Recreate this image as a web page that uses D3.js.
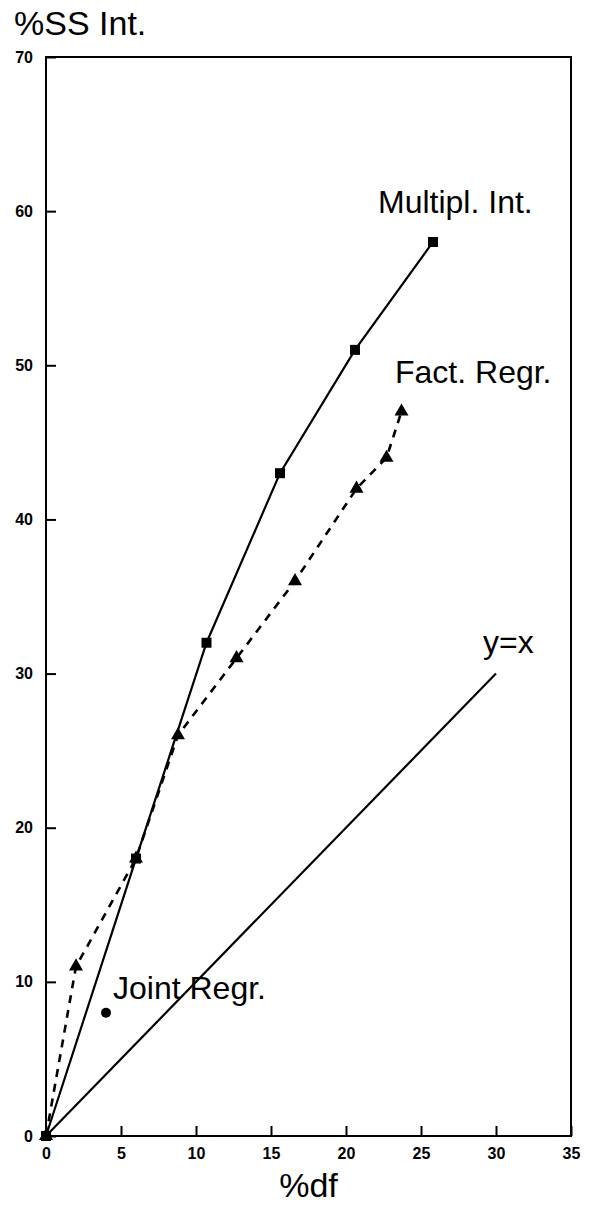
<!DOCTYPE html>
<html>
<head>
<meta charset="utf-8">
<script src="https://cdn.jsdelivr.net/npm/d3@7"></script>
<style>
  body { margin: 0; background: #fff; }
  svg text { font-family: "Liberation Sans", Arial, sans-serif; fill: #000; }
</style>
</head>
<body>
<div id="chart"></div>
<script>
// data (x = %df, y = %SS Int.)
const multiplX = [0, 6, 10.7, 15.6, 20.6, 25.8];
const multiplY = [0, 18, 32, 43, 51, 58];

const factX = [0, 2, 6, 8.8, 12.7, 16.6, 20.7, 22.7, 23.7];
const factY = [0, 11, 18, 26, 31, 36, 42, 44, 47];

const jointX = [4];
const jointY = [8];

const identityX = [0, 30];
const identityY = [0, 30];

const xTicks = [0, 5, 10, 15, 20, 25, 30, 35];
const yTicks = [0, 10, 20, 30, 40, 50, 60, 70];

const seriesLabels = [
  { text: "Multipl. Int.", x: 378, y: 213 },
  { text: "Fact. Regr.", x: 395, y: 383 },
  { text: "y=x", x: 483, y: 653 },
  { text: "Joint Regr.", x: 113, y: 999 }
];

const W = 593, H = 1206;

// scales
let x = d3.scaleLinear().domain([0, 35]).range([46, 571]);
let y = d3.scaleLinear().domain([0, 70]).range([1136, 57]);

let svg = d3.select("#chart").append("svg")
  .attr("width", W)
  .attr("height", H);

// frame on top and right
svg.append("rect")
  .attr("x", x(0))
  .attr("y", y(70))
  .attr("width", x(35) - x(0))
  .attr("height", y(0) - y(70))
  .attr("fill", "none")
  .attr("stroke", "#000")
  .attr("stroke-width", 2);

// axes, ticks pointing inward
let xAxis = svg.append("g")
  .attr("transform", `translate(0,${y(0)})`)
  .call(d3.axisBottom(x).tickValues(xTicks).tickSize(-10).tickPadding(12).tickFormat(d3.format("d")));

let yAxis = svg.append("g")
  .attr("transform", `translate(${x(0)},0)`)
  .call(d3.axisLeft(y).tickValues(yTicks).tickSize(-10).tickPadding(13).tickFormat(d3.format("d")));

[xAxis, yAxis].forEach(g => {
  g.select(".domain").remove();
  g.selectAll(".tick line").attr("stroke", "#000").attr("stroke-width", 2);
  g.selectAll(".tick text")
    .attr("font-size", 16)
    .attr("font-weight", "bold");
});

// lines
let line = d3.line().x(d => x(d[0])).y(d => y(d[1]));

svg.append("path")
  .datum(d3.zip(identityX, identityY))
  .attr("d", line)
  .attr("fill", "none")
  .attr("stroke", "#000")
  .attr("stroke-width", 2.2);

svg.append("path")
  .datum(d3.zip(factX, factY))
  .attr("d", line)
  .attr("fill", "none")
  .attr("stroke", "#000")
  .attr("stroke-width", 2.6)
  .attr("stroke-dasharray", "8,7");

svg.append("path")
  .datum(d3.zip(multiplX, multiplY))
  .attr("d", line)
  .attr("fill", "none")
  .attr("stroke", "#000")
  .attr("stroke-width", 2.2);

// markers
svg.selectAll(".tri")
  .data(d3.zip(factX, factY))
  .enter()
  .append("path")
  .attr("class", "tri")
  .attr("d", d3.symbol().type(d3.symbolTriangle).size(85))
  .attr("transform", d => `translate(${x(d[0])},${y(d[1])})`)
  .attr("fill", "#000");

svg.selectAll(".sq")
  .data(d3.zip(multiplX, multiplY))
  .enter()
  .append("rect")
  .attr("class", "sq")
  .attr("x", d => x(d[0]) - 5)
  .attr("y", d => y(d[1]) - 5)
  .attr("width", 10)
  .attr("height", 10)
  .attr("fill", "#000");

svg.selectAll(".dot")
  .data(d3.zip(jointX, jointY))
  .enter()
  .append("circle")
  .attr("class", "dot")
  .attr("cx", d => x(d[0]))
  .attr("cy", d => y(d[1]))
  .attr("r", 5)
  .attr("fill", "#000");

// series labels
svg.selectAll(".lab")
  .data(seriesLabels)
  .enter()
  .append("text")
  .attr("class", "lab")
  .attr("x", d => d.x)
  .attr("y", d => d.y)
  .attr("font-size", 32)
  .text(d => d.text);

// axis titles
svg.append("text")
  .attr("x", 14)
  .attr("y", 35)
  .attr("font-size", 34)
  .text("%SS Int.");

svg.append("text")
  .attr("x", (x(0) + x(35)) / 2)
  .attr("y", 1197)
  .attr("text-anchor", "middle")
  .attr("font-size", 34)
  .text("%df");
</script>
</body>
</html>
